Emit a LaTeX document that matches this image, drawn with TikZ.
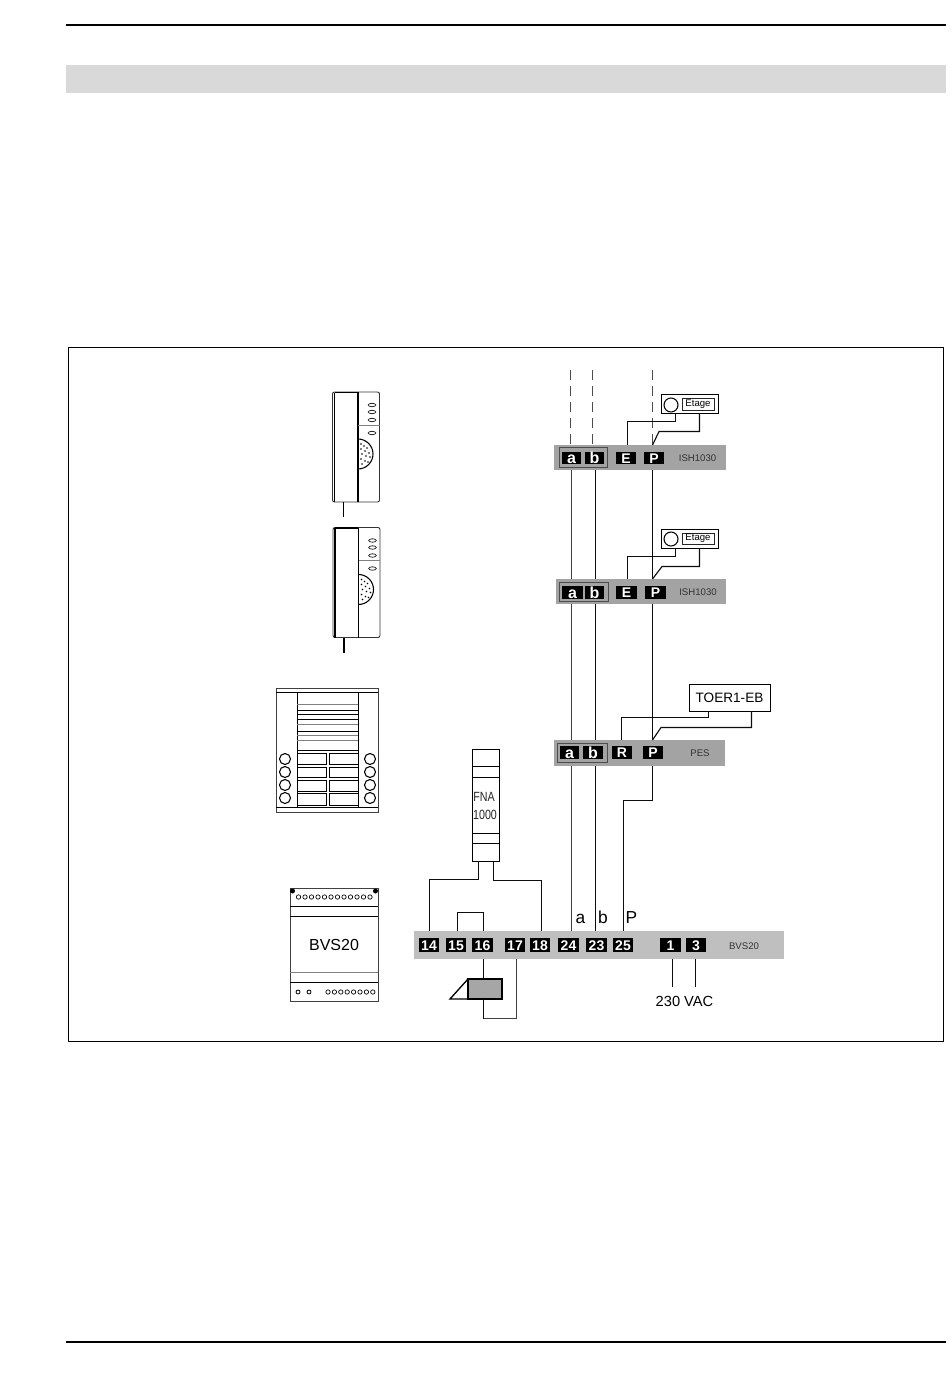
\documentclass[tikz,border=0pt]{standalone}
\usepackage{graphicx}
\usepackage{fontspec}
\setmainfont{Liberation Sans}
\newcommand{\boxnode}[7][plain]{% style, name, x1,y1,x2,y2, text
  \pgfmathsetmacro{\cxv}{(#3+#5)/2}\pgfmathsetmacro{\cyv}{(#4+#6)/2}
  \pgfmathsetmacro{\wv}{(#5-#3)*0.75}\pgfmathsetmacro{\hv}{(#6-#4)*0.75}
  \node[#1,minimum width=\wv pt,minimum height=\hv pt] (#2) at (\cxv,\cyv) {#7};}
\tikzset{
  x=0.75pt,y=-0.75pt,
  plain/.style={inner sep=0pt,outer sep=0pt},
  term/.style={plain,fill=black,text=white,text height=7.5pt,text depth=0pt,font=\bfseries\fontsize{10.5}{11}\selectfont},
  termab/.style={text height=8.6pt,font=\bfseries\fontsize{12}{13}\selectfont},
  stripdark/.style={plain,fill=black!36},
  striplight/.style={plain,fill=black!25},
  pair/.style={plain,draw=black!70,line width=0.6pt},
  wire/.style={draw=black!95,line width=0.85pt},
  thinwire/.style={draw=black!75,line width=0.85pt},
  dashwire/.style={draw=black!70,line width=0.85pt,dash pattern=on 7.5pt off 4.5pt},
  dev/.style={draw=black,line width=0.8pt},
  devbox/.style={plain,draw=black,line width=0.7pt},
  faint/.style={draw=black!50,line width=0.7pt},
  tiny/.style={plain,text=black!80,font=\fontsize{7.2}{8}\selectfont},
  wlabel/.style={plain,anchor=base,font=\fontsize{13}{14}\selectfont},
}
\begin{document}
\begin{tikzpicture}
\useasboundingbox (0,0) rectangle (950,1398);
% page furniture
\coordinate (tl) at (66,25); \coordinate (tr) at (946,25);
\draw[black,line width=0.8pt] (tl) -- (tr);
\boxnode[plain,fill=black!15]{band}{66}{65}{946}{93}{}
\boxnode[plain,draw=black,line width=0.7pt]{frame}{68}{347}{943}{1041}{}
\coordinate (bl) at (66,1342); \coordinate (br) at (946,1342);
\draw[black,line width=0.8pt] (bl) -- (br);

% wire x positions
\coordinate (ax0) at (570.5,370); \coordinate (bx0) at (592.5,370); \coordinate (px0) at (652.5,370);
\coordinate (ax) at (571.5,0); \coordinate (bx) at (595.5,0); \coordinate (px) at (652.5,0);

% strip 1
\boxnode[stripdark]{s1}{554}{445}{726}{470}{}
\boxnode[pair]{p1}{559}{447}{607}{467}{}
\boxnode[term,termab]{a1}{562}{452}{581}{464}{a}
\boxnode[term,termab]{b1}{585}{452}{604}{464}{b}
\boxnode[term]{e1}{616}{452}{636}{464}{E}
\boxnode[term]{q1}{644}{452}{664}{464}{P}
\node[tiny] (t1) at (697.5,458) {ISH1030};
% strip 2
\boxnode[stripdark]{s2}{556}{579}{726}{603.5}{}
\boxnode[pair]{p2}{559}{582}{608}{601}{}
\boxnode[term,termab]{a2}{562}{586}{583}{599}{a}
\boxnode[term,termab]{b2}{585}{586}{604}{599}{b}
\boxnode[term]{e2}{616}{586}{637}{599}{E}
\boxnode[term]{q2}{645}{586}{666}{599}{P}
\node[tiny] (t2) at (698,592) {ISH1030};
% strip 3
\boxnode[stripdark]{s3}{554}{740}{725}{766}{}
\boxnode[pair]{p3}{557}{743}{607}{762}{}
\boxnode[term,termab]{a3}{560}{746}{579}{759}{a}
\boxnode[term,termab]{b3}{583}{746}{603}{759}{b}
\boxnode[term]{r3}{612}{746}{632}{759}{R}
\boxnode[term]{q3}{643}{746}{663}{759}{P}
\node[tiny] (t3) at (700,753) {PES};
% strip 4
\boxnode[striplight]{s4}{414}{931}{784}{959}{}
\boxnode[term]{n14}{419}{938}{439}{952}{14}
\boxnode[term]{n15}{446}{938}{466}{952}{15}
\boxnode[term]{n16}{472}{938}{493}{952}{16}
\boxnode[term]{n17}{505}{938}{525}{952}{17}
\boxnode[term]{n18}{530}{938}{550}{952}{18}
\boxnode[term]{n24}{558}{938}{579}{952}{24}
\boxnode[term]{n23}{586}{938}{607}{952}{23}
\boxnode[term]{n25}{613}{938}{633}{952}{25}
\boxnode[term]{n1}{660}{938}{681}{952}{1}
\boxnode[term]{n3}{686}{938}{706}{952}{3}
\node[tiny] (t4) at (744,946) {BVS20};

% dashed risers
\draw[dashwire] (ax0) -- (ax0 |- s1.north);
\draw[dashwire] (bx0) -- (bx0 |- s1.north);
\draw[dashwire] (px0) -- (px0 |- s1.north);
% a, b, P risers
\draw[thinwire] (s1.south -| ax) -- (s2.north -| ax);
\draw[wire] (s1.south -| bx) -- (s2.north -| bx);
\draw[wire] (s1.south -| px) -- (s2.north -| px);
\draw[thinwire] (s2.south -| ax) -- (s3.north -| ax);
\draw[wire] (s2.south -| bx) -- (s3.north -| bx);
\draw[wire] (s2.south -| px) -- (s3.north -| px);
\draw[thinwire] (s3.south -| ax) -- (s4.north -| ax);
\draw[wire] (s3.south -| bx) -- (s4.north -| bx);
\coordinate (p25) at (623.5,0); \coordinate (pk) at (0,800.5);
\draw[wire] (s3.south -| px) -- (pk -| px) -- (pk -| p25) -- (s4.north -| p25);
\node[wlabel] (la) at (580.5,923) {a};
\node[wlabel] (lb) at (603,923) {b};
\node[wlabel] (lp) at (631.5,923) {P};

% Etage 1
\boxnode[devbox]{et1}{661}{394}{718}{413}{}
\boxnode[plain,draw=black!85,line width=0.6pt,font=\fontsize{7.2}{8}\selectfont]{etl1}{682}{398}{714}{410}{Etage}
\draw[dev] (671,405) circle (7);
\coordinate (k1a) at (675.5,421.5); \coordinate (k1b) at (627.5,421.5);
\draw[wire] (et1.south -| k1a) -- (k1a) -- (k1b) -- (s1.north -| k1b);
\coordinate (k1c) at (699.5,431.5); \coordinate (k1d) at (659,431.5);
\draw[wire] (et1.south -| k1c) -- (k1c) -- (k1d) -- (s1.north -| px);
% Etage 2
\boxnode[devbox]{et2}{661}{529}{718}{548}{}
\boxnode[plain,draw=black!85,line width=0.6pt,font=\fontsize{7.2}{8}\selectfont]{etl2}{682}{533}{714}{544}{Etage}
\draw[dev] (671,539) circle (7);
\coordinate (k2a) at (675.5,556.5); \coordinate (k2b) at (627.5,556.5);
\draw[wire] (et2.south -| k2a) -- (k2a) -- (k2b) -- (s2.north -| k2b);
\coordinate (k2c) at (699.5,566.5); \coordinate (k2d) at (662,566.5);
\draw[wire] (et2.south -| k2c) -- (k2c) -- (k2d) -- (s2.north -| px);
% TOER
\boxnode[devbox,font=\fontsize{10.2}{11}\selectfont]{toer}{689}{684}{770}{711}{TOER1-EB}
\coordinate (k3a) at (708.5,717.5); \coordinate (k3b) at (621.5,717.5);
\draw[wire] (toer.south -| k3a) -- (k3a) -- (k3b) -- (s3.north -| k3b);
\coordinate (k3c) at (751.5,727.5); \coordinate (k3d) at (661,727.5);
\draw[wire] (toer.south -| k3c) -- (k3c) -- (k3d) -- (s3.north -| px);

% FNA fuse
\boxnode[devbox]{fna}{472}{749}{499}{861}{}
\draw[dev] (472,766.5) -- (499,766.5) (472,777.5) -- (499,777.5) (472,833.5) -- (499,833.5) (472,843.5) -- (499,843.5);
\node[plain,font=\fontsize{10}{11}\selectfont,text=black!85] (fnat) at (484,797) {\scalebox{.8}[1]{FNA}};
\node[plain,font=\fontsize{10}{11}\selectfont,text=black!85] (fnan) at (485,815) {\scalebox{.8}[1]{1000}};
\coordinate (f1) at (478.5,879.5); \coordinate (f2) at (429.5,879.5);
\draw[wire] (fna.south -| f1) -- (f1) -- (f2) -- (s4.north -| f2);
\coordinate (f3) at (493.5,880.5); \coordinate (f4) at (541.5,880.5);
\draw[wire] (fna.south -| f3) -- (f3) -- (f4) -- (s4.north -| f4);
% jumper
\coordinate (j1) at (457.5,912.5); \coordinate (j2) at (483.5,912.5);
\draw[wire] (s4.north -| j1) -- (j1) -- (j2) -- (s4.north -| j2);
% relay
\boxnode[plain,fill=black!35,draw=black,line width=0.8pt]{rel}{468}{979}{502}{999}{}
\coordinate (tri) at (450,999);
\draw[black,line width=1pt] (rel.north west) -- (tri) -- (rel.south west);
\coordinate (r1) at (483.5,1018.5); \coordinate (r2) at (516.5,1018.5);
\draw[wire] (s4.south -| r1) -- (rel.north -| r1);
\draw[wire] (rel.south -| r1) -- (r1);
\draw[thinwire] (r1) -- (r2) -- (s4.south -| r2);
% 230 VAC
\node[plain,font=\fontsize{11}{12}\selectfont] (vac) at (684.5,1001) {230 VAC};
\coordinate (v1) at (672.5,987); \coordinate (v2) at (695.5,987);
\draw[wire] (s4.south -| v1) -- (v1);
\draw[wire] (s4.south -| v2) -- (v2);

% handsets
\foreach \dx/\dy in {0/0,0.5/135.5}{
\begin{scope}[shift={(\dx,\dy)}]
  \draw[draw=black!80,line width=0.7pt,rounded corners=1.5pt] (332.5,392) rectangle (379.5,502);
  \draw[black,line width=1.2pt] (334.5,392.5) -- (334.5,502) (334.5,392.5) -- (357,392.5);
  \draw[dev] (358,392) -- (358,502);
  \draw[faint] (358,425) -- (379.5,425);
  \foreach \yy in {405,412,420,433}{
    \draw[black!85,line width=0.6pt] (372,\yy) ellipse (3.8 and 1.7);
  }
  \draw[dev] (358,439) arc (-90:90:15);
  \foreach \px/\py in {361/444,364/446,367/448,361/449,365/451,369/453,362/454,366/456,370/457,361/459,365/461,368/462,362/464}{
    \fill[black] (\px,\py) circle (0.9);
  }
  \draw[dev] (343.5,502) -- (343.5,517);
\end{scope}}

% door panel
\boxnode[plain,draw=black!75,line width=0.6pt]{panel}{276}{688}{378}{812}{}
\draw[dev] (276,692.5) -- (378,692.5) (276,807.5) -- (378,807.5);
\draw[dev] (297.5,692) -- (297.5,807) (358.5,692) -- (358.5,807);
\foreach \yy in {710.5,714.5,719.5,731.5,750.5}{\draw[dev] (297,\yy) -- (358,\yy);}
\foreach \yy in {704.5,724.5,735.5,740.5}{\draw[faint] (297,\yy) -- (358,\yy);}
\foreach \ya/\yb in {753.5/764.5,767.5/777.5,780.5/791.5,793.5/805.5}{
  \draw[dev] (297.5,\ya) rectangle (326.5,\yb);
  \draw[dev] (329.5,\ya) rectangle (358.5,\yb);
}
\foreach \yy in {759,772,785,798}{
  \draw[dev] (285,\yy) circle (5.5);
  \draw[dev] (370,\yy) circle (5.5);
}

% BVS20 module
\boxnode[plain,draw=black!75,line width=0.6pt,font=\fontsize{12}{13}\selectfont]{bvs}{290}{888}{378}{1001}{BVS20}
\draw[dev] (290,906.5) -- (378,906.5) (290,916.5) -- (378,916.5) (290,982.5) -- (378,982.5);
\draw[faint] (290,972.5) -- (378,972.5);
\fill[black] (292.5,891) circle (2.5) (375.5,891) circle (2.5);
\foreach \i in {0,...,11}{\draw[black,line width=0.5pt] (298.5+\i*6.5,897) circle (2.2);}
\draw[black,line width=0.6pt] (298,992) circle (2) (309,992) circle (2);
\foreach \i in {0,...,7}{\draw[black,line width=0.5pt] (328+\i*6.4,992) circle (2.2);}
\end{tikzpicture}
\end{document}
